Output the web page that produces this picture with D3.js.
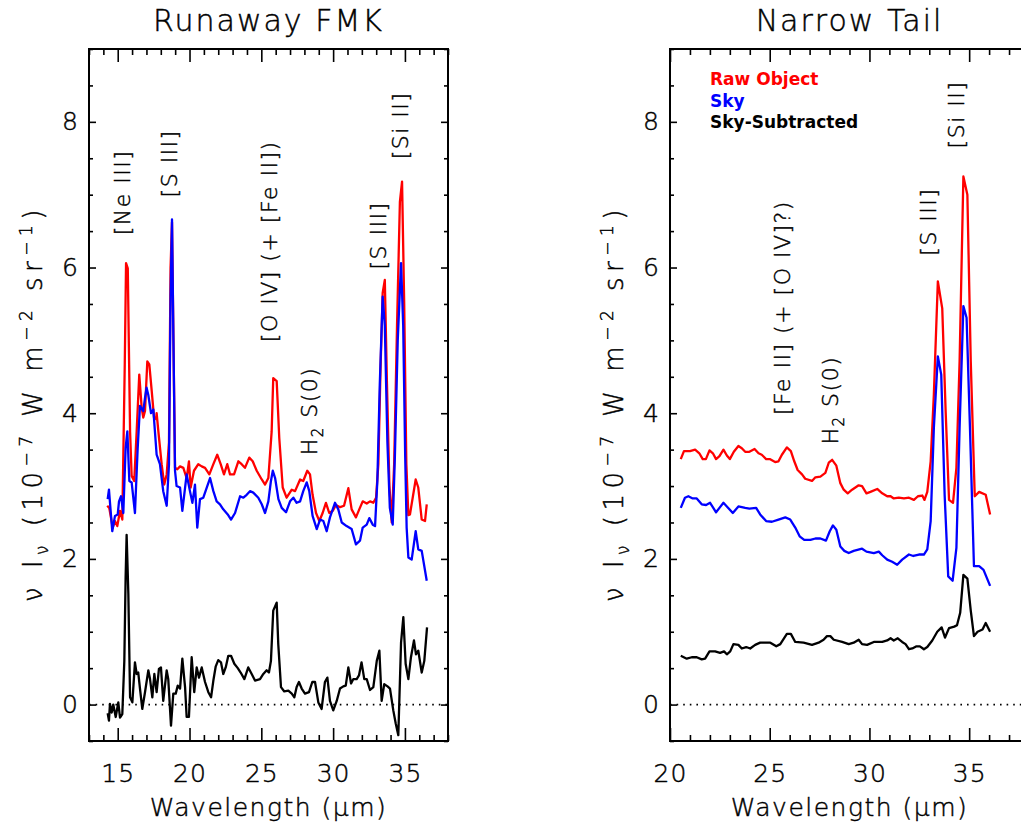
<!DOCTYPE html>
<html>
<head>
<meta charset="utf-8">
<script src="https://cdn.jsdelivr.net/npm/d3@7"></script>
<style>
body { margin: 0; background: #fff; }
text { font-family: "DejaVu Sans", sans-serif; font-weight: 200; fill: #000; stroke: #000; stroke-width: 0.45px; }
</style>
</head>
<body>
<script>
// Runaway FMK spectra: [wavelength (um), nu I_nu (1e-7 W m^-2 sr^-1)]
var fmkRaw = [[14.27,2.73],[14.41,2.70],[14.65,2.43],[14.81,2.52],[14.97,2.45],[15.16,2.66],[15.32,2.54],[15.49,4.67],[15.58,6.06],[15.70,5.99],[15.86,3.75],[15.97,3.14],[16.15,3.07],[16.32,3.75],[16.50,4.53],[16.67,4.07],[16.78,3.94],[16.90,4.03],[17.06,4.71],[17.20,4.67],[17.37,4.30],[17.53,3.94],[17.67,3.92],[17.71,4.00],[17.83,3.75],[18.06,3.30],[18.24,3.02],[18.41,3.16],[18.57,3.60],[18.68,6.00],[18.78,6.62],[18.88,5.00],[18.99,3.25],[19.15,3.23],[19.34,3.27],[19.57,3.25],[19.80,3.11],[19.96,3.34],[20.08,2.98],[20.31,3.21],[20.61,3.30],[20.85,3.27],[21.08,3.25],[21.38,3.16],[21.66,3.30],[21.93,3.43],[22.17,3.30],[22.40,3.16],[22.63,3.30],[22.82,3.16],[23.10,3.16],[23.40,3.34],[23.63,3.30],[23.86,3.25],[24.16,3.39],[24.40,3.34],[24.68,3.21],[25.03,3.09],[25.26,3.02],[25.49,3.11],[25.72,3.75],[25.83,4.48],[26.07,4.44],[26.25,3.66],[26.49,2.98],[26.76,2.84],[27.12,2.95],[27.35,2.93],[27.70,3.09],[27.92,3.07],[28.20,3.21],[28.39,3.16],[28.57,2.88],[28.81,2.63],[29.04,2.52],[29.27,2.63],[29.50,2.77],[29.73,2.63],[29.97,2.66],[30.20,2.74],[30.48,2.71],[30.76,2.73],[31.06,2.97],[31.29,2.68],[31.59,2.57],[31.82,2.68],[32.06,2.79],[32.34,2.76],[32.57,2.79],[32.80,2.77],[32.99,2.84],[33.15,3.30],[33.30,4.60],[33.45,5.65],[33.60,5.83],[33.75,4.40],[33.92,3.00],[34.08,2.50],[34.25,3.30],[34.45,5.20],[34.65,6.90],[34.80,7.18],[34.95,5.50],[35.10,3.30],[35.24,2.60],[35.35,2.61],[35.55,2.85],[35.75,3.09],[35.93,2.98],[36.17,2.54],[36.40,2.52],[36.52,2.75]];

var fmkSky = [[14.30,2.82],[14.39,2.95],[14.62,2.38],[14.81,2.59],[15.00,2.61],[15.09,2.79],[15.23,2.86],[15.39,2.63],[15.55,3.52],[15.67,3.75],[15.81,3.07],[15.97,3.05],[16.20,2.63],[16.39,3.52],[16.55,4.10],[16.78,4.03],[16.90,4.21],[17.01,4.35],[17.13,4.25],[17.32,4.00],[17.48,4.05],[17.71,3.43],[17.94,3.30],[18.17,2.93],[18.41,2.73],[18.57,3.30],[18.68,5.60],[18.78,6.66],[18.88,5.00],[18.99,3.21],[19.10,3.00],[19.34,2.98],[19.50,2.66],[19.80,3.16],[20.03,2.93],[20.20,2.77],[20.38,3.02],[20.54,2.43],[20.73,2.82],[20.96,2.84],[21.20,2.98],[21.43,3.11],[21.66,2.93],[21.89,2.79],[22.12,2.75],[22.35,2.68],[22.66,2.61],[22.89,2.54],[23.17,2.63],[23.52,2.86],[23.75,2.84],[23.98,2.88],[24.21,2.93],[24.44,2.91],[24.79,2.84],[25.03,2.75],[25.26,2.63],[25.49,2.79],[25.67,3.07],[25.80,3.21],[25.96,3.11],[26.19,2.82],[26.42,2.70],[26.72,2.64],[27.00,2.79],[27.23,2.84],[27.46,2.77],[27.70,2.79],[27.92,2.93],[28.16,3.05],[28.34,2.93],[28.57,2.59],[28.86,2.41],[29.09,2.54],[29.32,2.52],[29.55,2.38],[29.78,2.57],[30.13,2.77],[30.36,2.68],[30.60,2.50],[30.94,2.45],[31.29,2.41],[31.59,2.20],[31.87,2.25],[32.06,2.43],[32.34,2.47],[32.52,2.56],[32.76,2.47],[32.92,2.45],[33.08,3.07],[33.25,4.40],[33.45,5.60],[33.60,5.20],[33.78,3.60],[33.95,2.70],[34.15,2.47],[34.30,3.40],[34.50,5.00],[34.73,6.06],[34.88,5.20],[35.02,3.40],[35.12,2.43],[35.24,2.02],[35.47,1.99],[35.75,2.38],[35.93,2.13],[36.17,2.11],[36.52,1.70]];

var fmkSub = [[14.30,-0.12],[14.39,-0.22],[14.46,0.01],[14.58,-0.11],[14.69,0.00],[14.86,-0.17],[15.04,0.03],[15.16,-0.18],[15.32,-0.13],[15.46,0.60],[15.55,1.74],[15.62,2.33],[15.74,1.52],[15.86,0.10],[16.02,0.03],[16.20,0.58],[16.32,0.42],[16.43,0.44],[16.55,0.22],[16.71,-0.06],[16.90,0.17],[17.13,0.47],[17.25,0.35],[17.41,0.10],[17.55,0.42],[17.71,0.17],[17.87,0.49],[18.01,0.51],[18.17,0.05],[18.41,0.47],[18.52,0.35],[18.71,-0.29],[18.87,0.15],[19.04,0.15],[19.18,0.26],[19.34,0.22],[19.50,0.63],[19.69,0.24],[19.80,-0.17],[19.96,-0.17],[20.15,0.65],[20.33,0.17],[20.50,0.51],[20.66,0.37],[20.85,0.51],[21.08,0.31],[21.31,0.17],[21.50,0.10],[21.66,0.33],[21.82,0.52],[22.00,0.61],[22.19,0.58],[22.35,0.42],[22.52,0.51],[22.70,0.67],[22.89,0.67],[23.12,0.56],[23.36,0.50],[23.56,0.44],[23.82,0.35],[24.09,0.51],[24.33,0.42],[24.56,0.33],[24.91,0.35],[25.14,0.42],[25.37,0.47],[25.53,0.44],[25.67,0.60],[25.83,1.29],[26.07,1.40],[26.18,0.83],[26.37,0.24],[26.60,0.18],[26.88,0.19],[27.12,0.15],[27.30,0.10],[27.46,0.24],[27.62,0.31],[27.81,0.22],[28.04,0.15],[28.32,0.17],[28.55,0.31],[28.74,0.31],[28.97,0.03],[29.20,-0.06],[29.43,0.31],[29.60,0.37],[29.78,0.05],[30.01,-0.08],[30.25,0.05],[30.48,0.22],[30.71,0.25],[30.88,0.26],[31.06,0.51],[31.25,0.29],[31.41,0.35],[31.64,0.35],[31.80,0.40],[31.98,0.58],[32.17,0.35],[32.34,0.35],[32.57,0.20],[32.80,0.24],[33.04,0.60],[33.22,0.74],[33.38,0.05],[33.56,0.28],[33.79,0.25],[33.96,0.22],[34.19,-0.08],[34.36,-0.26],[34.54,-0.42],[34.73,0.85],[34.89,1.20],[35.05,0.56],[35.24,0.35],[35.42,0.65],[35.63,0.88],[35.77,0.69],[35.93,0.74],[36.17,0.44],[36.35,0.60],[36.54,1.06]];

// Narrow Tail spectra
var tailRaw = [[20.54,3.37],[20.70,3.48],[21.00,3.48],[21.26,3.50],[21.47,3.45],[21.64,3.37],[21.80,3.37],[21.98,3.49],[22.15,3.45],[22.31,3.37],[22.48,3.41],[22.68,3.50],[22.85,3.42],[23.00,3.37],[23.20,3.47],[23.43,3.55],[23.60,3.52],[23.77,3.47],[23.98,3.47],[24.24,3.51],[24.44,3.45],[24.60,3.43],[24.82,3.37],[25.00,3.37],[25.27,3.33],[25.44,3.34],[25.61,3.43],[25.86,3.53],[26.06,3.48],[26.23,3.34],[26.40,3.22],[26.62,3.16],[26.78,3.10],[27.12,3.07],[27.29,3.12],[27.54,3.13],[27.79,3.18],[27.96,3.32],[28.13,3.36],[28.34,3.28],[28.54,3.04],[28.71,2.95],[28.91,2.90],[29.13,2.95],[29.46,3.01],[29.63,3.00],[29.85,2.90],[30.05,2.92],[30.39,2.96],[30.64,2.90],[30.89,2.86],[31.06,2.86],[31.22,2.83],[31.47,2.84],[31.73,2.83],[31.98,2.84],[32.23,2.81],[32.43,2.86],[32.65,2.87],[32.76,2.81],[32.90,2.92],[33.07,3.34],[33.23,4.26],[33.43,5.81],[33.65,5.44],[33.82,4.03],[33.99,2.81],[34.19,2.77],[34.36,3.25],[34.52,4.71],[34.71,7.25],[34.91,7.00],[35.08,4.71],[35.28,2.86],[35.50,2.92],[35.83,2.88],[36.05,2.61]];

var tailSky = [[20.54,2.70],[20.75,2.84],[20.92,2.86],[21.14,2.83],[21.34,2.83],[21.59,2.75],[21.81,2.74],[22.01,2.77],[22.31,2.64],[22.48,2.70],[22.68,2.77],[22.85,2.72],[23.15,2.63],[23.43,2.72],[23.77,2.70],[23.98,2.69],[24.32,2.70],[24.52,2.61],[24.82,2.52],[25.11,2.51],[25.44,2.54],[25.78,2.57],[26.03,2.54],[26.28,2.43],[26.50,2.31],[26.73,2.26],[27.04,2.26],[27.29,2.28],[27.54,2.28],[27.82,2.25],[28.01,2.38],[28.17,2.46],[28.34,2.40],[28.54,2.17],[28.74,2.11],[28.96,2.08],[29.21,2.11],[29.63,2.14],[29.85,2.10],[30.22,2.08],[30.47,2.10],[30.64,2.05],[30.89,1.99],[31.14,1.96],[31.39,1.92],[31.64,1.99],[31.98,2.06],[32.20,2.04],[32.48,2.06],[32.73,2.06],[32.90,2.13],[33.07,2.52],[33.23,3.80],[33.43,4.78],[33.60,4.53],[33.77,2.88],[33.95,1.76],[34.17,1.70],[34.36,2.15],[34.52,3.80],[34.71,5.47],[34.87,5.31],[35.04,3.80],[35.24,1.90],[35.50,1.90],[35.72,1.85],[36.05,1.63]];

var tailSub = [[20.54,0.67],[20.84,0.63],[21.09,0.65],[21.34,0.65],[21.59,0.62],[21.76,0.63],[21.98,0.73],[22.26,0.73],[22.51,0.71],[22.71,0.73],[22.85,0.69],[23.02,0.73],[23.18,0.83],[23.43,0.82],[23.60,0.77],[23.82,0.79],[24.02,0.77],[24.27,0.82],[24.52,0.85],[24.77,0.85],[25.03,0.85],[25.33,0.80],[25.53,0.83],[25.86,0.97],[26.06,0.97],[26.28,0.86],[26.70,0.85],[27.12,0.82],[27.45,0.85],[27.70,0.89],[27.87,0.94],[28.04,0.94],[28.21,0.89],[28.63,0.86],[28.96,0.83],[29.21,0.85],[29.46,0.89],[29.63,0.83],[29.88,0.82],[30.22,0.86],[30.64,0.86],[30.89,0.88],[31.06,0.91],[31.22,0.88],[31.42,0.91],[31.64,0.86],[31.81,0.83],[31.98,0.76],[32.15,0.77],[32.36,0.80],[32.53,0.80],[32.73,0.76],[32.90,0.79],[33.15,0.88],[33.40,1.00],[33.62,1.06],[33.79,0.92],[33.99,1.05],[34.25,1.07],[34.39,1.09],[34.55,1.26],[34.71,1.78],[34.91,1.73],[35.08,1.29],[35.24,0.94],[35.42,1.00],[35.67,1.03],[35.83,1.12],[36.05,1.00]];

var fmkLines = [["[Ne III]", 15.3, 7.03], ["[S III]", 18.6, 7.43], ["[O IV] (+ [Fe II])", 25.55, 6.36], ["H2 S(0)", 28.35, 4.03], ["[S III]", 33.15, 6.44], ["[Si II]", 34.65, 7.95]];
var tailLines = [["[Fe II] (+ [O IV]?)", 25.6, 5.45], ["H2 S(0)", 28.05, 4.18], ["[S III]", 32.95, 6.63], ["[Si II]", 34.35, 8.1]];

var legendNames = ["Raw Object", "Sky", "Sky-Subtracted"];
var seriesColors = ["#ff0000", "#0000ff", "#000000"];

var yTicks = [0, 2, 4, 6, 8];

var plotTop = 49, plotBottom = 741;

var svg = d3.select("body").append("svg")
    .attr("width", 1021)
    .attr("height", 830);

function vertText(g, label, cx, cy, size) {
    var t = g.append("text")
        .attr("transform", "translate(" + cx + "," + cy + ") rotate(-90)")
        .attr("text-anchor", "middle")
        .attr("dy", "0.36em")
        .attr("font-size", size)
        .attr("letter-spacing", 1.5);
    if (label.indexOf("H2") == 0) {
        t.append("tspan").text("H");
        t.append("tspan").attr("font-size", size * 0.68).attr("dy", 6).text("2");
        t.append("tspan").attr("dy", -6).text(label.slice(2));
    } else {
        t.text(label);
    }
}

function drawPanel(cfg) {
    var x = d3.scaleLinear().domain(cfg.xDomain).range([cfg.left, cfg.right]);
    var y = d3.scaleLinear().domain([-0.5, 9]).range([plotBottom, plotTop]);
    var g = svg.append("g");
    var mid = (cfg.left + cfg.right) / 2;

    //title
    g.append("text")
        .attr("x", mid).attr("y", 31)
        .attr("text-anchor", "middle")
        .attr("font-size", 30)
        .attr("letter-spacing", 2)
        .text(cfg.title);

    //zero line
    g.append("line")
        .attr("x1", x.range()[0]).attr("x2", x.range()[1])
        .attr("y1", y(0)).attr("y2", y(0))
        .attr("stroke", "#000")
        .attr("stroke-width", 1.6)
        .attr("stroke-dasharray", "1.6,5");

    //spectra
    var line = d3.line().x(function(d) { return x(d[0]); }).y(function(d) { return y(d[1]); });
    cfg.series.forEach(function(s, i) {
        g.append("path")
            .datum(s)
            .attr("d", line)
            .attr("fill", "none")
            .attr("stroke", seriesColors[i])
            .attr("stroke-width", 2.3)
            .attr("stroke-linejoin", "round");
    });

    //line ids
    cfg.lines.forEach(function(l) {
        vertText(g, l[0], x(l[1]), y(l[2]), 22);
    });

    //axes (ticks point inward, box drawn separately)
    var xMinor = d3.range(cfg.xDomain[0], cfg.xDomain[1] + 0.01, 1).filter(function(v) { return v % 5 != 0; });
    var xMajor = d3.range(cfg.xDomain[0], cfg.xDomain[1] + 0.01, 1).filter(function(v) { return v % 5 == 0; });
    var yMinor = d3.range(-0.5, 9.01, 0.5).filter(function(v) { return yTicks.indexOf(v) < 0; });

    var axes = [
        [d3.axisBottom(x).tickValues(xMajor).tickSize(-13).tickPadding(23).tickFormat(d3.format("d")), "translate(0," + plotBottom + ")"],
        [d3.axisBottom(x).tickValues(xMinor).tickSize(-6).tickFormat(""), "translate(0," + plotBottom + ")"],
        [d3.axisTop(x).tickValues(xMajor).tickSize(-13).tickFormat(""), "translate(0," + plotTop + ")"],
        [d3.axisTop(x).tickValues(xMinor).tickSize(-6).tickFormat(""), "translate(0," + plotTop + ")"],
        [d3.axisLeft(y).tickValues(yTicks).tickSize(-7).tickPadding(10).tickFormat(d3.format("d")), "translate(" + cfg.left + ",0)"],
        [d3.axisLeft(y).tickValues(yMinor).tickSize(-4).tickFormat(""), "translate(" + cfg.left + ",0)"],
        [d3.axisRight(y).tickValues(yTicks).tickSize(-7).tickFormat(""), "translate(" + cfg.right + ",0)"],
        [d3.axisRight(y).tickValues(yMinor).tickSize(-4).tickFormat(""), "translate(" + cfg.right + ",0)"]
    ];
    axes.forEach(function(a) {
        var ag = g.append("g").attr("transform", a[1]).call(a[0]);
        ag.select(".domain").remove();
        ag.selectAll("line").attr("stroke-width", 1.6);
        ag.selectAll("text").attr("font-size", 25).attr("font-family", "DejaVu Sans").attr("letter-spacing", 1);
    });

    g.append("rect")
        .attr("x", cfg.left).attr("y", plotTop)
        .attr("width", cfg.right - cfg.left).attr("height", plotBottom - plotTop)
        .attr("fill", "none")
        .attr("stroke", "#000")
        .attr("stroke-width", 2);

    //x title
    g.append("text")
        .attr("x", mid).attr("y", 816)
        .attr("text-anchor", "middle")
        .attr("font-size", 25)
        .attr("letter-spacing", 1.5)
        .text("Wavelength (μm)");

    //y title
    var yt = g.append("text")
        .attr("transform", "translate(" + (cfg.left - 56) + "," + ((plotTop + plotBottom) / 2 + 8) + ") rotate(-90)")
        .attr("text-anchor", "middle")
        .attr("dy", "0.36em")
        .attr("font-size", 26)
        .attr("letter-spacing", 5.5);
    yt.append("tspan").text("ν I");
    yt.append("tspan").attr("font-size", 17).attr("dy", 6).text("ν");
    yt.append("tspan").attr("dy", -6).text(" (10");
    yt.append("tspan").attr("font-size", 17).attr("dy", -10).text("−7");
    yt.append("tspan").attr("dy", 10).text(" W m");
    yt.append("tspan").attr("font-size", 17).attr("dy", -10).text("−2");
    yt.append("tspan").attr("dy", 10).text(" sr");
    yt.append("tspan").attr("font-size", 17).attr("dy", -10).text("−1");
    yt.append("tspan").attr("dy", 10).text(")");

    if (cfg.legend) {
        legendNames.forEach(function(n, i) {
            g.append("text")
                .attr("x", cfg.left + 40)
                .attr("y", 85 + i * 21.5)
                .attr("font-family", "Liberation Sans, Arial, sans-serif")
                .attr("font-size", 17)
                .style("font-weight", "bold")
                .style("stroke", "none")
                .style("fill", seriesColors[i])
                .text(n);
        });
    }
}

drawPanel({title: "Runaway FMK", left: 89, right: 448, xDomain: [13, 38],
    series: [fmkRaw, fmkSky, fmkSub], lines: fmkLines, legend: false});
drawPanel({title: "Narrow Tail", left: 670, right: 1029, xDomain: [20, 38],
    series: [tailRaw, tailSky, tailSub], lines: tailLines, legend: true});
</script>
</body>
</html>
